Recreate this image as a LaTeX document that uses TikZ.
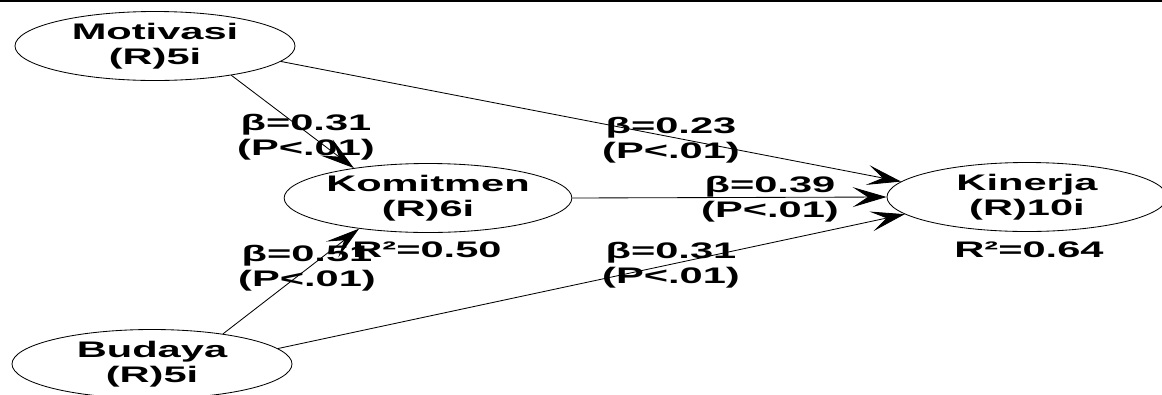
\documentclass[tikz,border=0pt]{standalone}
\usepackage{fontspec}
\setmainfont{Liberation Sans}
\newfontfamily\plsfont{Liberation Sans Bold}[FakeStretch=1.85]
\usetikzlibrary{arrows.meta,shapes.geometric}

\begin{document}
\begin{tikzpicture}[
    x=0.25mm, y=-0.25mm,
    every node/.style={align=center,font=\plsfont\fontsize{16}{17.5}\selectfont,inner sep=0pt},
    latent/.style={draw,ellipse,line width=0.6pt,minimum width=70mm,minimum height=17.25mm},
    coef/.style={},
    path/.style={draw,line width=0.6pt,-{Stealth[length=8.5mm,width=5mm,inset=3.8mm]}}
]
\useasboundingbox (0,0) rectangle (1162,394);
\clip (0,0) rectangle (1162,394);
\draw[line width=1pt] (0,1) -- (1162,1);

% latent variables
\node[latent] (mot) at (155,46) {Motivasi\\(R)5i};
\node[latent] (kom) at (428,198) {Komitmen\\(R)6i};
\node[latent] (kin) at (1027,197) {Kinerja\\(R)10i};
\node[latent] (bud) at (152,364) {Budaya\\(R)5i};

% R-squared
\node (r2kom) at (427,250) {R²=0.50};
\node (r2kin) at (1029,250) {R²=0.64};

% paths
\draw[path] (mot.-21) -- (kom.158);
\draw[path] (mot.-7) -- (kin.173);
\draw[path] (kom.east) -- (kin.west);
\draw[path] (bud.23) -- (kom.204);
\draw[path] (bud.7.5) -- (kin.188);

% coefficients
\node[coef] (motkom) at (306,137) {β=0.31\\(P<.01)};
\node[coef] (motkin) at (671,140) {β=0.23\\(P<.01)};
\node[coef] (komkin) at (770,199) {β=0.39\\(P<.01)};
\node[coef] (budkom) at (307,268) {β=0.51\\(P<.01)};
\node[coef] (budkin) at (671,265) {β=0.31\\(P<.01)};
\end{tikzpicture}
\end{document}
